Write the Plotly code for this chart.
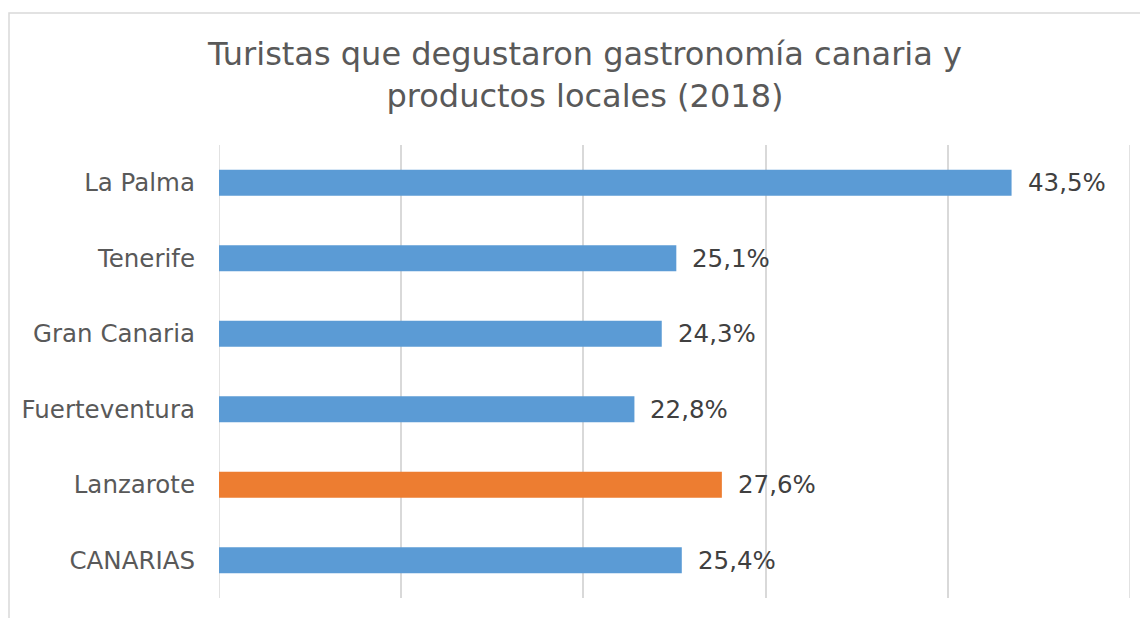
import plotly.graph_objects as go

categories = ["La Palma", "Tenerife", "Gran Canaria", "Fuerteventura", "Lanzarote", "CANARIAS"]
values = [43.5, 25.1, 24.3, 22.8, 27.6, 25.4]
labels = ["43,5%", "25,1%", "24,3%", "22,8%", "27,6%", "25,4%"]
colors = ["#5B9BD5", "#5B9BD5", "#5B9BD5", "#5B9BD5", "#ED7D31", "#5B9BD5"]
x_ticks = [0, 10, 20, 30, 40, 50]

# page body has an 8px margin; coordinates below are figure-relative
W, H = 1140, 610
L, R, T, B = 211, 1122, 137, 590

fig = go.Figure()
fig.add_trace(go.Bar(
    y=categories, x=values, orientation="h",
    marker=dict(color=colors, line=dict(width=0)),
    hoverinfo="skip",
))
for c, v, t in zip(categories, values, labels):
    fig.add_annotation(x=v, y=c, text=t, showarrow=False, xanchor="left",
                       xshift=14, font=dict(family="DejaVu Sans", size=24.5, color="#404040"))

# edge gridlines (plotly drops gridlines lying on the plot-area edges)
for xv in (x_ticks[0], x_ticks[-1]):
    fig.add_shape(type="line", xref="x", yref="paper", x0=xv, x1=xv, y0=0, y1=1,
                  line=dict(color="#D9D9D9", width=1.5), layer="below")

pw, ph = R - L, B - T
fig.add_shape(type="rect", xref="paper", yref="paper",
              x0=(1 - L) / pw, x1=(W + 10 - L) / pw,
              y0=(B - (H + 10)) / ph, y1=(B - 5) / ph,
              line=dict(color="#D9D9D9", width=1.5), fillcolor="rgba(0,0,0,0)", layer="below")

fig.update_layout(
    width=W, height=H,
    margin=dict(l=L, r=W - R, t=T, b=H - B),
    paper_bgcolor="white", plot_bgcolor="white",
    bargap=0.656,
    showlegend=False,
    title=dict(text="Turistas que degustaron gastronomía canaria y<br>productos locales (2018)",
               x=577 / W, xanchor="center", y=1 - 57 / H, yanchor="top",
               font=dict(family="DejaVu Sans", size=32, color="#595959")),
    xaxis=dict(range=[x_ticks[0], x_ticks[-1]], tickvals=x_ticks, showticklabels=False,
               showgrid=True, gridcolor="#D9D9D9", gridwidth=1.5,
               zeroline=False, showline=False, fixedrange=True),
    yaxis=dict(categoryorder="array", categoryarray=categories, autorange="reversed",
               showgrid=False, zeroline=False, showline=False,
               ticks="", ticklabelstandoff=23,
               tickfont=dict(family="DejaVu Sans", size=24.5, color="#595959")),
)
fig.write_html("out.html")
